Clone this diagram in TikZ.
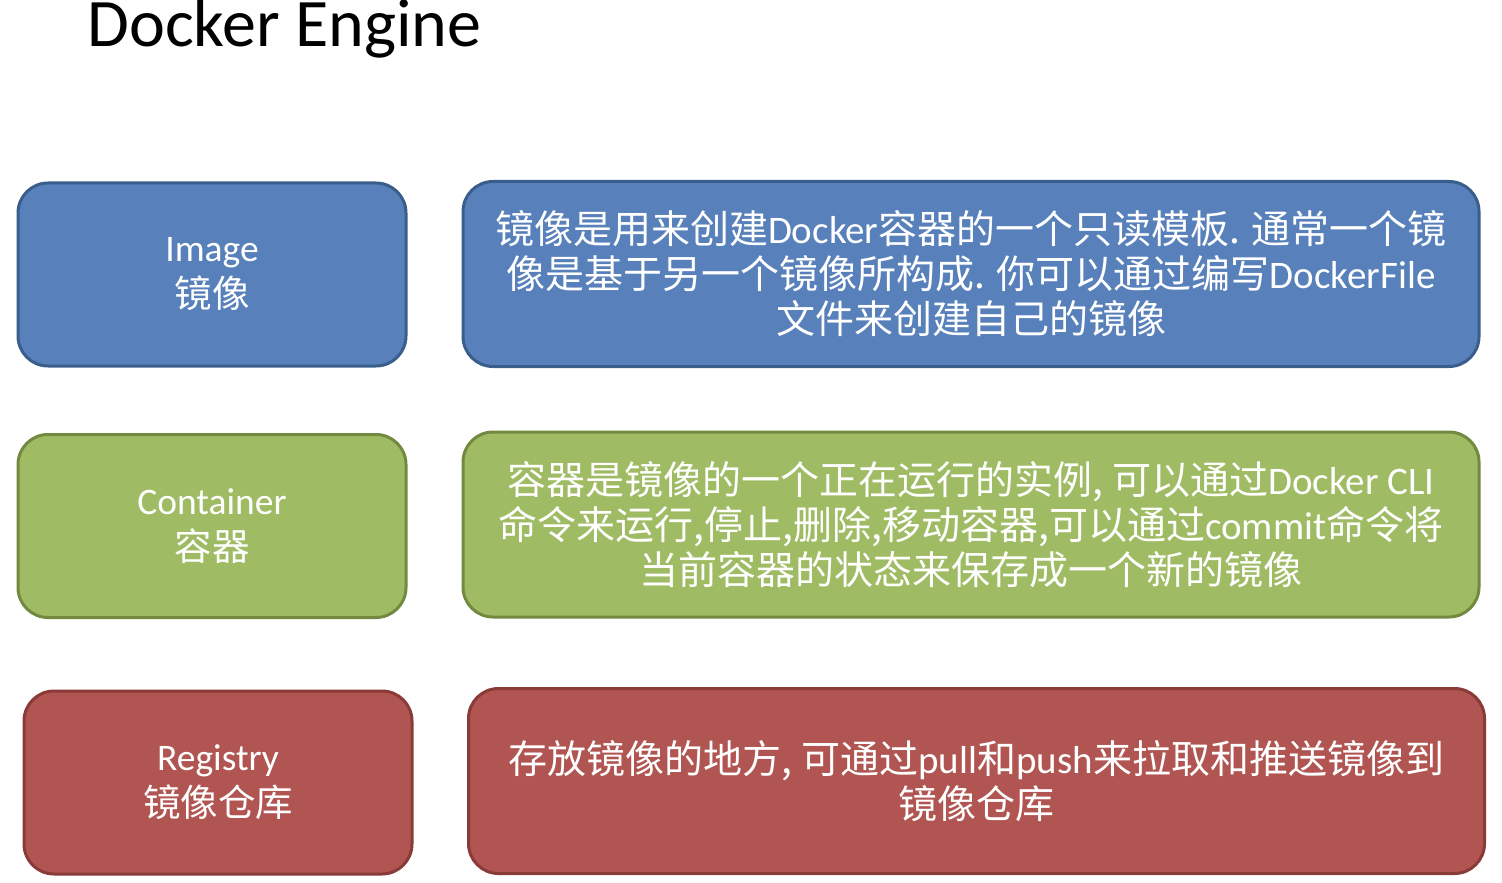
\documentclass[tikz,border=0pt]{standalone}
\usepackage{fontspec}
\setmainfont{Noto Sans CJK SC}
\newfontfamily\latfont{Carlito}
\newcommand{\en}[1]{{\latfont #1}}

\definecolor{imgfill}{HTML}{5880BA}
\definecolor{imgline}{HTML}{3A5E8C}
\definecolor{ctrfill}{HTML}{9FBB63}
\definecolor{ctrline}{HTML}{72893F}
\definecolor{regfill}{HTML}{B05551}
\definecolor{regline}{HTML}{8A3A37}

\tikzset{
    keybox/.style={rectangle, rounded corners=15pt, line width=1.5pt, text=white,
        align=center, inner sep=0pt, minimum width=194pt, minimum height=91.5pt,
        font=\fontsize{18.75}{23}\selectfont},
    descbox/.style={rectangle, rounded corners=15pt, line width=1.5pt, text=white,
        align=center, inner sep=0pt, minimum width=508pt, minimum height=92.5pt,
        font=\fontsize{19.5}{22.5}\selectfont},
}

\begin{document}
\begin{tikzpicture}[x=0.5pt,y=-0.5pt]
        \useasboundingbox (0,0) rectangle (1502,882);
        \node[anchor=base west, inner sep=0pt, text height=0.66em, text depth=0.2em,
            font=\latfont\fontsize{34}{40}\selectfont] (title) at (87,47) {Docker Engine};
        % image row
        \node[keybox, fill=imgfill, draw=imgline] (imagebox) at (212,274.5) {\en{Image}\\镜像};
        \node[descbox, fill=imgfill, draw=imgline] (imagedesc) at (971,274) {镜像是用来创建\en{Docker}容器的一个只读模板. 通常一个镜\\像是基于另一个镜像所构成. 你可以通过编写\en{DockerFile}\\文件来创建自己的镜像};
        % container row
        \node[keybox, fill=ctrfill, draw=ctrline] (containerbox) at (212,526) {\en{Container}\\容器};
        \node[descbox, fill=ctrfill, draw=ctrline] (containerdesc) at (971,524.5) {容器是镜像的一个正在运行的实例, 可以通过\en{Docker CLI}\\命令来运行,停止,删除,移动容器,可以通过\en{commit}命令将\\当前容器的状态来保存成一个新的镜像};
        % registry row
        \node[keybox, fill=regfill, draw=regline] (registrybox) at (218,782.5) {\en{Registry}\\镜像仓库};
        \node[descbox, fill=regfill, draw=regline] (registrydesc) at (976.5,781) {存放镜像的地方, 可通过\en{pull}和\en{push}来拉取和推送镜像到\\镜像仓库};
    \end{tikzpicture}
\end{document}
